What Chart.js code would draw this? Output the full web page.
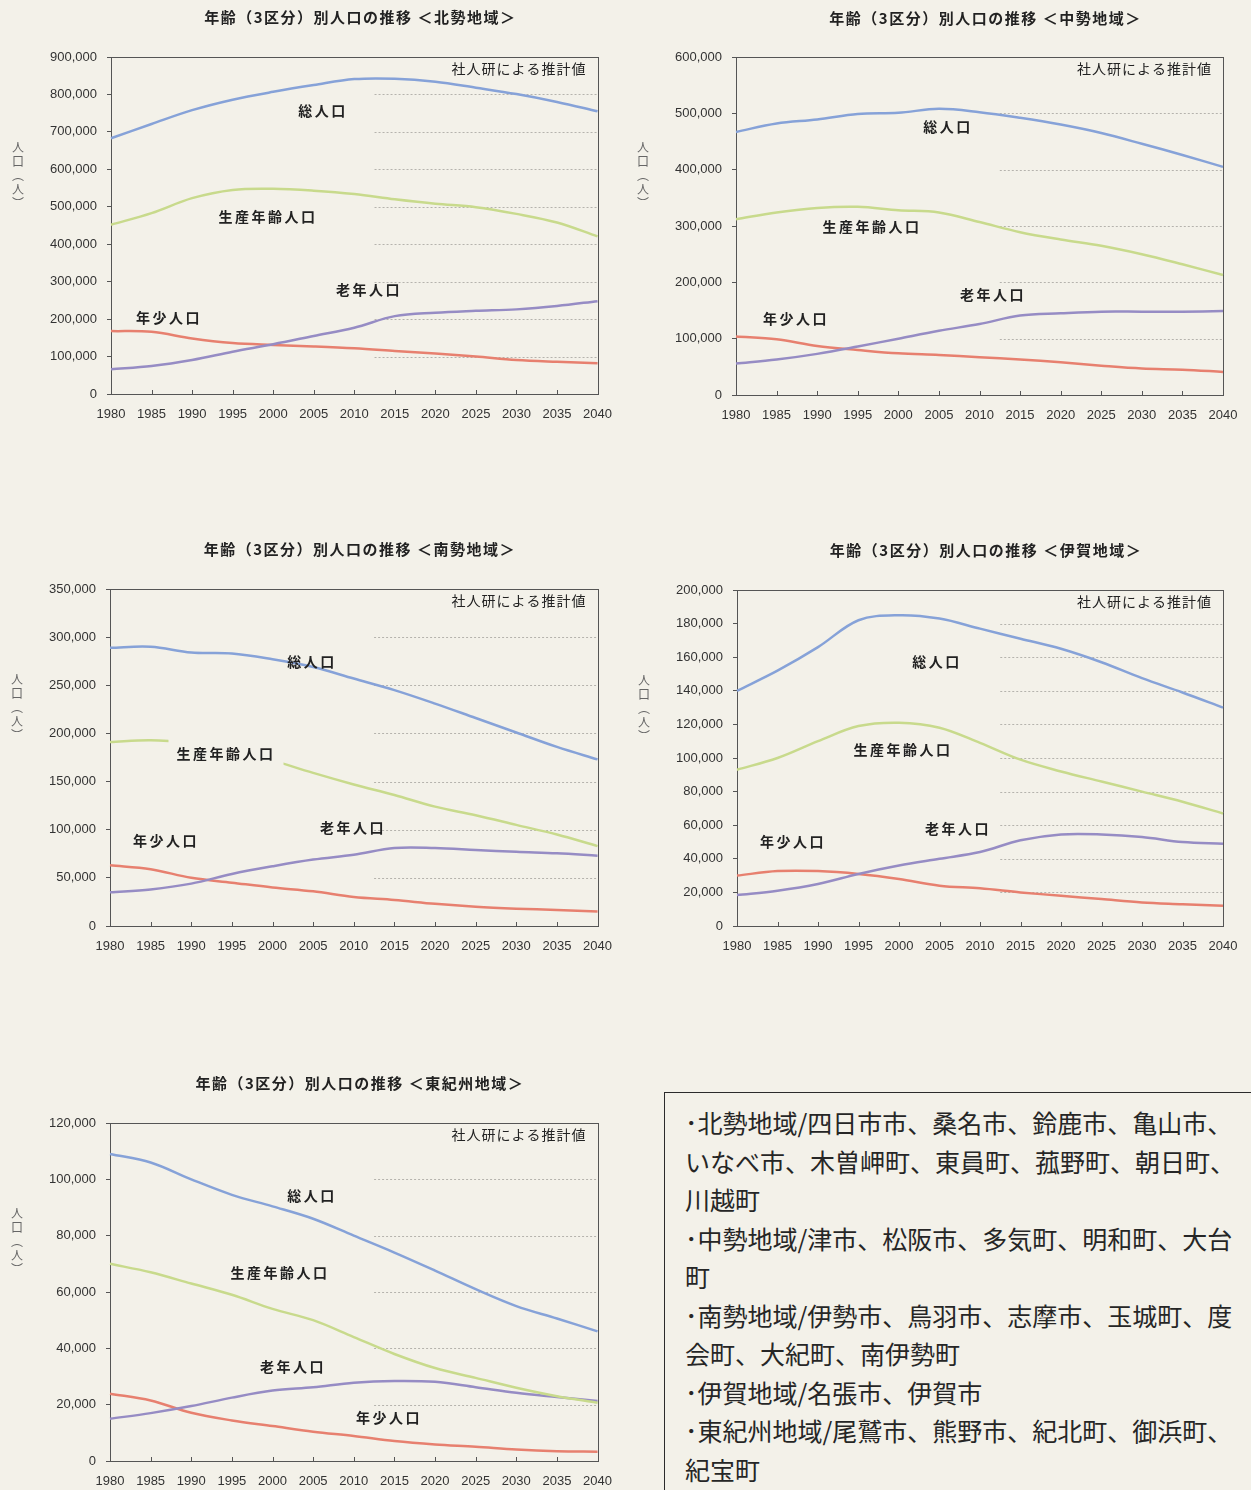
<!DOCTYPE html>
<html lang="ja">
<head>
<meta charset="utf-8">
<script src="https://cdn.jsdelivr.net/npm/chart.js@4.4.1/dist/chart.umd.min.js"></script>
<style>
  body { margin: 0; background: #f3f1e9; }
  #page { position: relative; width: 1251px; height: 1490px; overflow: hidden; background: #f3f1e9; }
  .panel { position: absolute; }
  .note {
    position: absolute; left: 664px; top: 1092px; width: 640px; height: 440px;
    border: 1.5px solid #2b2b2b; box-sizing: border-box;
    padding: 10px 0 0 20px;
    font-family: "Noto Sans CJK JP", sans-serif; font-size: 25px; line-height: 38.5px; color: #262626;
  }
  .note div { white-space: nowrap; }
</style>
</head>
<body>
<div id="page">
  <div class="panel" style="left:0;top:0;width:625px;height:430px"><canvas id="chart1"></canvas></div>
  <div class="panel" style="left:625px;top:0;width:626px;height:430px"><canvas id="chart2"></canvas></div>
  <div class="panel" style="left:0;top:530px;width:625px;height:430px"><canvas id="chart3"></canvas></div>
  <div class="panel" style="left:625px;top:530px;width:626px;height:430px"><canvas id="chart4"></canvas></div>
  <div class="panel" style="left:0;top:1060px;width:625px;height:440px"><canvas id="chart5"></canvas></div>
  <div class="note">
    <div>･北勢地域/四日市市、桑名市、鈴鹿市、亀山市、</div>
    <div>いなべ市、木曽岬町、東員町、菰野町、朝日町、</div>
    <div>川越町</div>
    <div>･中勢地域/津市、松阪市、多気町、明和町、大台</div>
    <div>町</div>
    <div>･南勢地域/伊勢市、鳥羽市、志摩市、玉城町、度</div>
    <div>会町、大紀町、南伊勢町</div>
    <div>･伊賀地域/名張市、伊賀市</div>
    <div>･東紀州地域/尾鷲市、熊野市、紀北町、御浜町、</div>
    <div>紀宝町</div>
  </div>
</div>
<script>
const years = ['1980', '1985', '1990', '1995', '2000', '2005', '2010', '2015', '2020', '2025', '2030', '2035', '2040'];
const seriesNames = ['総人口', '生産年齢人口', '老年人口', '年少人口'];

// 北勢地域
const hokuseiTotal   = [683000, 721000, 758000, 786000, 807000, 825000, 841000, 842000, 834000, 818000, 801000, 780000, 755000];
const hokuseiWorking = [452000, 483000, 523000, 545000, 548000, 543000, 534000, 520000, 508000, 499000, 481000, 458000, 421000];
const hokuseiElderly = [66000, 75000, 91000, 113000, 133000, 155000, 177000, 208000, 217000, 222000, 226000, 235000, 248000];
const hokuseiYouth   = [168000, 166000, 148000, 136000, 131000, 127000, 122000, 115000, 108000, 100000, 91000, 86000, 82000];

// 中勢地域
const chuseiTotal   = [467000, 482000, 489000, 499000, 501000, 508000, 502000, 492000, 480000, 465000, 446000, 426000, 405000];
const chuseiWorking = [312000, 324000, 332000, 334000, 328000, 324000, 307000, 289000, 276000, 265000, 250000, 232000, 213000];
const chuseiElderly = [56000, 63000, 73000, 86000, 100000, 114000, 126000, 141000, 145000, 148000, 148000, 148000, 149000];
const chuseiYouth   = [104000, 99000, 87000, 80000, 74000, 71000, 67000, 63000, 58000, 52000, 47000, 45000, 41000];

// 南勢地域
const nanseiTotal   = [289000, 290000, 284000, 283000, 277000, 269000, 257000, 245000, 231000, 216000, 201000, 186000, 173000];
const nanseiWorking = [191000, 193000, 190000, 184000, 172000, 159000, 147000, 136000, 124000, 115000, 105000, 95000, 83000];
const nanseiElderly = [35000, 38000, 44000, 54000, 62000, 69000, 74000, 81000, 81000, 79000, 77000, 75500, 73000];
const nanseiYouth   = [63000, 59000, 50000, 45000, 40000, 36000, 30000, 27000, 23000, 20000, 18000, 16600, 15000];

// 伊賀地域
const igaTotal   = [140000, 152000, 166000, 182000, 185000, 183000, 177000, 171000, 165000, 157000, 147500, 139000, 130000];
const igaWorking = [93000, 100000, 110000, 119000, 121000, 118000, 109000, 99000, 92000, 86000, 80000, 74000, 67000];
const igaElderly = [18400, 21000, 25000, 31000, 36000, 40000, 44000, 51000, 54500, 54500, 53000, 50000, 49000];
const igaYouth   = [30000, 32700, 32700, 31000, 28000, 24000, 22400, 20000, 18000, 16000, 14000, 13000, 12000];

// 東紀州地域
const higashikishuTotal   = [109000, 106000, 100000, 94500, 90400, 86000, 80000, 74000, 67600, 61000, 55000, 50600, 46000];
const higashikishuWorking = [70000, 67000, 63000, 59000, 54000, 50000, 44000, 38000, 33000, 29500, 26000, 23000, 20700];
const higashikishuElderly = [15000, 17000, 19500, 22500, 25000, 26200, 27800, 28400, 28100, 26200, 24200, 22700, 21300];
const higashikishuYouth   = [23900, 21500, 17100, 14400, 12400, 10400, 8900, 7100, 5900, 5100, 4100, 3500, 3300];

const lineColors = ['#86a2d8', '#c8da8c', '#968cc4', '#e7806f'];
const fontJP = '"Noto Sans CJK JP", sans-serif';

// panel: canvas box on page, plot box on page, title y on page
const panels = [
  { id: 'chart1', box: [0, 0, 625, 430], plot: [111, 602, 57, 394], titleY: 17, region: '北勢地域',
    series: [hokuseiTotal, hokuseiWorking, hokuseiElderly, hokuseiYouth], yMax: 900000, yStep: 100000,
    notes: [[323, 111], [268, 217], [369, 290], [169, 318]] },
  { id: 'chart2', box: [625, 0, 626, 430], plot: [736, 1223, 57, 395], titleY: 18, region: '中勢地域',
    series: [chuseiTotal, chuseiWorking, chuseiElderly, chuseiYouth], yMax: 600000, yStep: 100000,
    notes: [[948, 127], [872, 227], [993, 295], [796, 319]] },
  { id: 'chart3', box: [0, 530, 625, 430], plot: [110, 604, 589, 926], titleY: 549, region: '南勢地域',
    series: [nanseiTotal, nanseiWorking, nanseiElderly, nanseiYouth], yMax: 350000, yStep: 50000,
    notes: [[312, 662], [226, 754], [353, 828], [166, 841]], mask: 1 },
  { id: 'chart4', box: [625, 530, 626, 430], plot: [737, 1223, 590, 926], titleY: 550, region: '伊賀地域',
    series: [igaTotal, igaWorking, igaElderly, igaYouth], yMax: 200000, yStep: 20000,
    notes: [[937, 662], [903, 750], [958, 829], [793, 842]] },
  { id: 'chart5', box: [0, 1060, 625, 440], plot: [110, 603, 1123, 1461], titleY: 1083, region: '東紀州地域',
    series: [higashikishuTotal, higashikishuWorking, higashikishuElderly, higashikishuYouth], yMax: 120000, yStep: 20000,
    notes: [[312, 1196], [280, 1273], [293, 1367], [389, 1418]] }
];

const decor = {
  id: 'decor',
  beforeDatasetsDraw(chart, args, opts) {
    const ctx = chart.ctx;
    const a = chart.chartArea;
    const x = chart.scales.x;
    const y = chart.scales.y;
    ctx.save();
    // partial dotted gridlines in the projection part
    ctx.strokeStyle = '#b5b3ad';
    ctx.lineWidth = 1;
    ctx.setLineDash([2, 2]);
    const gx = (x.getPixelForValue(6) + x.getPixelForValue(7)) / 2;
    y.ticks.forEach(t => {
      if (t.value <= 0 || t.value >= y.max) return;
      const py = Math.round(y.getPixelForValue(t.value)) + 0.5;
      ctx.beginPath();
      ctx.moveTo(gx, py);
      ctx.lineTo(a.right, py);
      ctx.stroke();
    });
    // plot frame
    ctx.setLineDash([]);
    ctx.strokeStyle = '#555';
    ctx.strokeRect(Math.round(a.left) + 0.5, Math.round(a.top) + 0.5, Math.round(a.right - a.left), Math.round(a.bottom - a.top));
    // inner tick marks on x axis
    for (let i = 1; i < years.length - 1; i++) {
      const px = Math.round(x.getPixelForValue(i)) + 0.5;
      ctx.beginPath();
      ctx.moveTo(px, a.bottom);
      ctx.lineTo(px, a.bottom - 4);
      ctx.stroke();
    }
    ctx.restore();
  },
  afterDatasetsDraw(chart, args, opts) {
    const ctx = chart.ctx;
    const a = chart.chartArea;
    const p = opts.panel;
    ctx.save();
    ctx.textBaseline = 'middle';
    ctx.fillStyle = '#222';
    // title
    ctx.font = 'bold 15px ' + fontJP;
    ctx.letterSpacing = '1.5px';
    ctx.textAlign = 'center';
    ctx.fillText('年齢（3区分）別人口の推移 ＜' + p.region + '＞', (a.left + a.right) / 2 + 6, p.titleY - p.box[1]);
    // projection note
    ctx.font = '14px ' + fontJP;
    ctx.letterSpacing = '1px';
    ctx.textAlign = 'right';
    ctx.fillText('社人研による推計値', a.right - 11, a.top + 12);
    // series labels
    ctx.font = 'bold 14px ' + fontJP;
    ctx.letterSpacing = '2.5px';
    ctx.textAlign = 'center';
    p.notes.forEach((n, i) => {
      const nx = n[0] - p.box[0];
      const ny = n[1] - p.box[1];
      if (p.mask && i === 1) {
        const w = ctx.measureText(seriesNames[i]).width;
        ctx.fillStyle = '#f3f1e9';
        ctx.fillRect(nx - w / 2 - 8, ny - 17, w + 16, 34);
        ctx.fillStyle = '#222';
      }
      ctx.fillText(seriesNames[i], nx, ny);
    });
    // vertical axis title
    ctx.font = '12px ' + fontJP;
    ctx.letterSpacing = '0px';
    ctx.fillStyle = '#666';
    const vx = a.left - 93;
    let vy = a.top + 90;
    ['人', '口', '︵', '人', '︶'].forEach(c => {
      ctx.fillText(c, vx, vy);
      vy += 14;
    });
    ctx.restore();
  }
};

function createChart(p) {
  const ctx = document.getElementById(p.id);
  const [left, top, w, h] = p.box;
  const [pl, pr, pt, pb] = p.plot;
  const xAxisH = 30;
  ctx.parentElement.style.width = w + 'px';
  ctx.parentElement.style.height = h + 'px';

  new Chart(ctx, {
    type: 'line',
    data: {
      labels: years,
      datasets: p.series.map((s, i) => ({
        label: seriesNames[i],
        data: s,
        borderColor: lineColors[i],
        backgroundColor: lineColors[i],
        borderWidth: 2.5,
        pointRadius: 0,
        tension: 0.35,
        fill: false
      }))
    },
    options: {
      responsive: true,
      maintainAspectRatio: false,
      animation: false,
      layout: {
        padding: { left: 0, right: left + w - pr, top: pt - top, bottom: top + h - pb - xAxisH }
      },
      plugins: {
        legend: { display: false },
        tooltip: { enabled: false },
        decor: { panel: p }
      },
      scales: {
        x: {
          offset: false,
          grid: { display: false, drawTicks: false },
          border: { display: false },
          ticks: {
            maxRotation: 0,
            autoSkip: false,
            padding: 13,
            color: '#333',
            font: { family: '"Liberation Sans", sans-serif', size: 13 }
          },
          afterFit(scale) { scale.height = xAxisH; }
        },
        y: {
          min: 0,
          max: p.yMax,
          grid: { drawOnChartArea: false, drawTicks: true, tickLength: 4, color: '#555' },
          border: { display: false },
          ticks: {
            stepSize: p.yStep,
            padding: 10,
            color: '#333',
            font: { family: '"Liberation Sans", sans-serif', size: 13 },
            callback: v => v.toLocaleString('en-US')
          },
          afterFit(scale) { scale.width = pl - left; }
        }
      }
    },
    plugins: [decor]
  });
}

panels.forEach(createChart);
</script>
</body>
</html>
